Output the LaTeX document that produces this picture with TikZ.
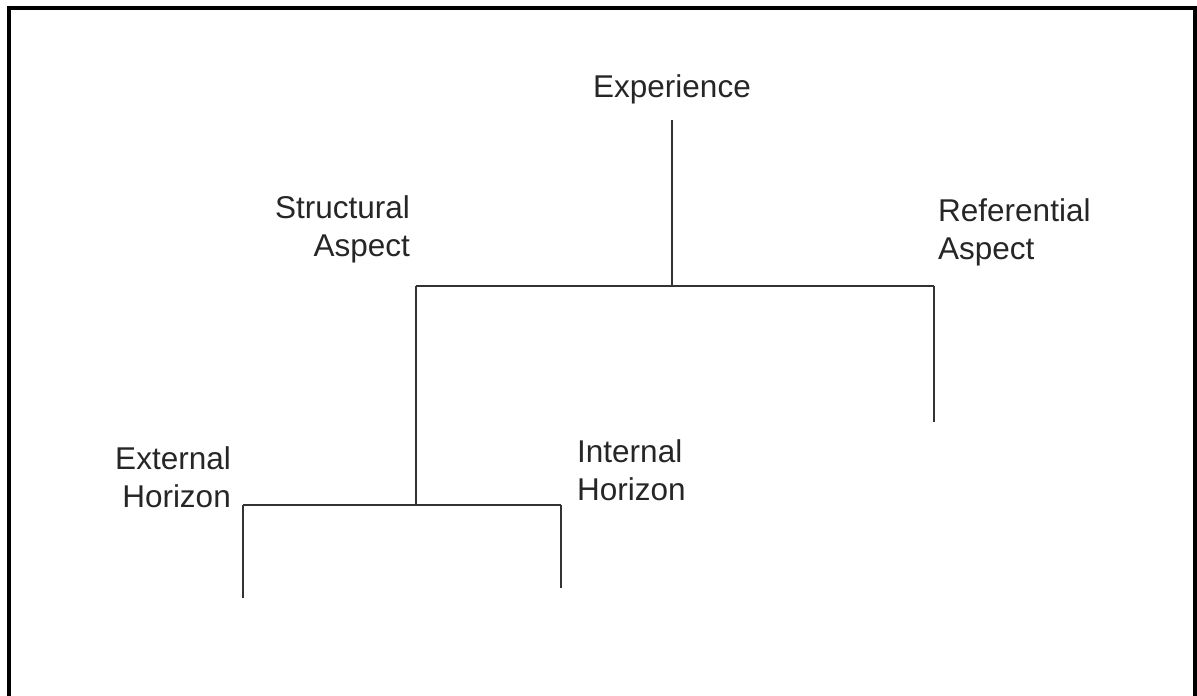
\documentclass[tikz,border=0pt]{standalone}
\usepackage{fontspec}
\setmainfont{Liberation Sans}
\begin{document}
\begin{tikzpicture}[x=1pt,y=-1pt,
    label text/.style={inner sep=0pt, text=black!85, font=\fontsize{31.5}{37.5}\selectfont},
    branch/.style={draw=black!80, line width=1.8pt},
    frame line/.style={draw=black, line width=4pt}]
  \useasboundingbox (0,0) rectangle (1197,696);
  % outer frame (open at the bottom)
  \draw[frame line] (9,696) -- (9,8) -- (1195,8) -- (1195,696);

  % labels (multi-line labels are anchored on the baseline of their last line)
  \node[label text, anchor=base] (exp) at (672,97) {Experience};
  \node[label text, anchor=base east, align=right] (struct) at (410,256) {Structural\\Aspect};
  \node[label text, anchor=base west, align=left] (ref) at (938,259) {Referential\\Aspect};
  \node[label text, anchor=base east, align=right] (ext) at (231,507) {External\\Horizon};
  \node[label text, anchor=base west, align=left] (int) at (577,500) {Internal\\Horizon};

  % junction points of the tree
  \coordinate (expTop) at (672,120);
  \coordinate (expJoin) at (672,286);
  \coordinate (structTop) at (416,286);
  \coordinate (refTop) at (934,286);
  \coordinate (refEnd) at (934,422);
  \coordinate (structJoin) at (416,505);
  \coordinate (extTop) at (243,505);
  \coordinate (extEnd) at (243,598);
  \coordinate (intTop) at (561,505);
  \coordinate (intEnd) at (561,588);

  % branches
  \draw[branch] (expTop) -- (expJoin);
  \draw[branch] (structTop) -- (refTop);
  \draw[branch] (refTop) -- (refEnd);
  \draw[branch] (structTop) -- (structJoin);
  \draw[branch] (extTop) -- (intTop);
  \draw[branch] (extTop) -- (extEnd);
  \draw[branch] (intTop) -- (intEnd);
\end{tikzpicture}
\end{document}
